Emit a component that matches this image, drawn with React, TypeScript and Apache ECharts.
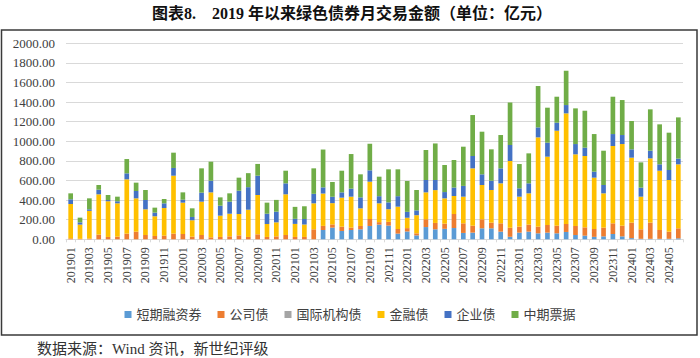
import React, { useEffect, useRef } from "react";
import * as echarts from "echarts";

const months: string[] = [];
for (let y = 2019; y <= 2024; y++) {
  for (let m = 1; m <= 12; m++) {
    if (y === 2024 && m > 6) break;
    months.push(`${y}${m < 10 ? "0" + m : m}`);
  }
}

const seriesNames = ["短期融资券", "公司债", "国际机构债", "金融债", "企业债", "中期票据"];
const colors = ["#5B9BD5", "#ED7D31", "#A5A5A5", "#FFC000", "#4472C4", "#70AD47"];

// 短期融资券
const shortTerm = [
  0, 0, 0, 0, 0, 0, 0, 0, 0, 0, 0, 0,
  0, 0, 0, 0, 0, 0, 0, 0, 0, 0, 0, 0,
  0, 0, 0, 95, 119, 85, 95, 102, 136, 150, 140, 58,
  80, 40, 125, 102, 107, 115, 65, 68, 112, 112, 78, 27,
  68, 78, 61, 68, 61, 75, 44, 37, 25, 30, 54, 30,
  12, 5, 5, 5, 5, 10,
];
// 公司债
const corporate = [
  10, 5, 8, 48, 24, 27, 58, 78, 44, 34, 37, 58,
  54, 27, 44, 20, 24, 30, 40, 24, 51, 24, 30, 44,
  24, 24, 102, 42, 33, 44, 24, 34, 71, 25, 38, 47,
  34, 21, 80, 65, 53, 143, 98, 71, 92, 58, 85, 92,
  61, 72, 68, 78, 78, 81, 92, 85, 80, 89, 109, 109,
  158, 97, 165, 90, 73, 102,
];
// 国际机构债
const international = [
  0, 0, 0, 0, 0, 0, 0, 0, 0, 0, 0, 0,
  0, 0, 0, 0, 0, 0, 0, 0, 0, 0, 0, 0,
  0, 0, 0, 0, 0, 0, 0, 0, 0, 0, 0, 0,
  0, 0, 0, 0, 0, 0, 0, 0, 0, 0, 0, 0,
  0, 0, 0, 0, 0, 0, 0, 0, 0, 0, 0, 0,
  0, 0, 0, 0, 0, 0,
];
// 金融债
const financial = [
  350, 145, 282, 411, 364, 340, 554, 340, 262, 201, 282, 591,
  320, 167, 340, 459, 217, 231, 218, 278, 401, 132, 143, 415,
  133, 127, 265, 330, 217, 296, 316, 180, 381, 192, 129, 228,
  106, 185, 274, 335, 258, 184, 272, 585, 350, 333, 408, 680,
  306, 319, 911, 697, 969, 1129, 731, 728, 524, 350, 789, 833,
  663, 333, 656, 605, 527, 653,
];
// 企业债
const enterprise = [
  48, 23, 16, 47, 13, 21, 61, 75, 95, 37, 48, 79,
  30, 34, 92, 119, 102, 123, 238, 230, 197, 105, 109, 112,
  52, 56, 97, 63, 65, 54, 82, 112, 116, 73, 70, 107,
  60, 49, 126, 103, 64, 86, 110, 126, 109, 95, 153, 163,
  85, 102, 102, 143, 82, 85, 105, 85, 61, 85, 122, 92,
  85, 92, 78, 65, 102, 58,
];
// 中期票据
const mtn = [
  61, 48, 112, 48, 51, 47, 146, 85, 102, 51, 44, 156,
  75, 88, 248, 194, 85, 85, 133, 143, 120, 113, 120, 129,
  122, 130, 260, 386, 151, 221, 353, 235, 271, 199, 337, 274,
  315, 208, 306, 373, 276, 281, 400, 418, 435, 320, 340, 435,
  248, 306, 422, 357, 265, 350, 364, 377, 384, 350, 381, 357,
  289, 258, 422, 408, 381, 421,
];

const yTicks = [0, 200, 400, 600, 800, 1000, 1200, 1400, 1600, 1800, 2000];

const serif = "'Liberation Serif', 'Times New Roman', 'Noto Sans CJK SC', serif";

export default function App() {
  const ref = useRef<HTMLDivElement>(null);
  useEffect(() => {
    if (!ref.current) return;
    const chart = echarts.init(ref.current, null, { renderer: "svg" });
    const dataSets = [shortTerm, corporate, international, financial, enterprise, mtn];
    chart.setOption({
      animation: false,
      backgroundColor: "#ffffff",
      textStyle: { fontFamily: serif },
      graphic: [
        {
          type: "rect",
          shape: { x: 1.5, y: 30, width: 695.5, height: 305 },
          style: { fill: "none", stroke: "#3a3a3a", lineWidth: 1.5 },
          silent: true,
        },
        {
          type: "text",
          x: 352,
          y: 13,
          style: {
            text: "图表8.    2019 年以来绿色债券月交易金额（单位：亿元）",
            fontFamily: serif,
            fontSize: 16,
            fontWeight: "bold",
            fill: "#111111",
            align: "center",
            verticalAlign: "middle",
          },
        },
        {
          type: "text",
          x: 37,
          y: 349,
          style: {
            text: "数据来源：Wind 资讯，新世纪评级",
            fontFamily: serif,
            fontSize: 15,
            fill: "#333333",
            align: "left",
            verticalAlign: "middle",
          },
        },
      ],
      legend: {
        data: seriesNames,
        left: "center",
        top: 303,
        icon: "rect",
        itemWidth: 7,
        itemHeight: 7,
        itemGap: 16,
        textStyle: { fontSize: 13, color: "#404040", fontFamily: serif },
      },
      grid: { left: 66, right: 17, top: 43.3, bottom: 118.7 },
      xAxis: {
        type: "category",
        data: months,
        axisLine: { show: true, lineStyle: { color: "#d9d9d9", width: 1 } },
        axisTick: { show: true, interval: 0, length: 3, lineStyle: { color: "#d9d9d9" } },
        axisLabel: {
          interval: 1,
          rotate: 90,
          margin: 8,
          fontSize: 12,
          color: "#404040",
          fontFamily: serif,
        },
      },
      yAxis: {
        type: "value",
        min: yTicks[0],
        max: yTicks[yTicks.length - 1],
        interval: 200,
        axisLine: { show: false },
        axisTick: { show: false },
        splitLine: { lineStyle: { color: "#d9d9d9", width: 1 } },
        axisLabel: {
          margin: 11,
          fontSize: 13,
          color: "#404040",
          fontFamily: serif,
          formatter: (v: number) => v.toFixed(2),
        },
      },
      series: seriesNames.map((name, i) => ({
        name,
        type: "bar",
        stack: "total",
        barWidth: "50%",
        itemStyle: { color: colors[i] },
        data: dataSets[i],
      })),
    });
    return () => chart.dispose();
  }, []);
  return (
    <div
      ref={ref}
      style={{ position: "fixed", left: 0, top: 0, width: 700, height: 358 }}
    />
  );
}
